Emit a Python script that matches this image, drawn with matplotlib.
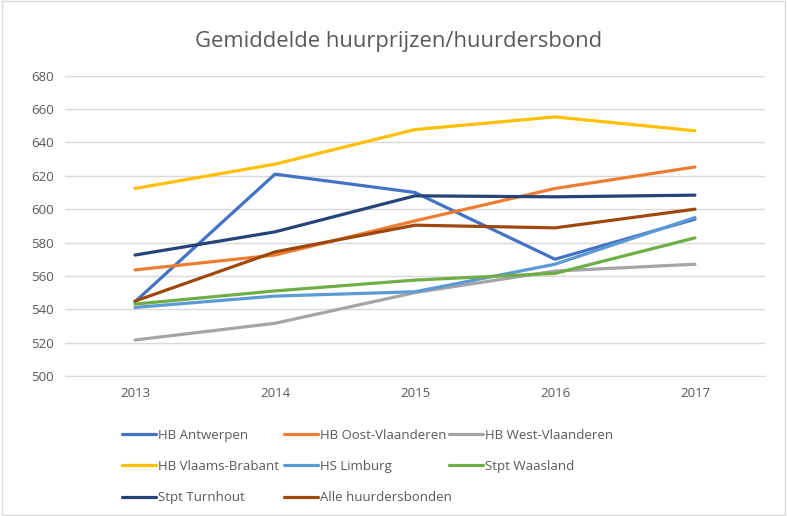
import matplotlib.pyplot as plt
from matplotlib.patches import Rectangle

plt.rcParams['font.family'] = ['Open Sans', 'DejaVu Sans']

years = ['2013', '2014', '2015', '2016', '2017']
antwerpen = [544.5, 621, 610, 570, 594]
oost_vl = [563.6, 572.5, 593, 612.4, 625.3]
west_vl = [521.6, 531.6, 550, 562.9, 567]
vl_brabant = [612.4, 627, 647.7, 655.3, 647]
limburg = [541.1, 547.9, 550.5, 567, 595]
waasland = [543.1, 551, 557.5, 561.5, 582.8]
turnhout = [572.5, 586.4, 608, 607.4, 608.4]
alle = [544.9, 574.4, 590.4, 588.8, 600]

series = [
    ('HB Antwerpen', antwerpen, '#4472C4'),
    ('HB Oost-Vlaanderen', oost_vl, '#ED7D31'),
    ('HB West-Vlaanderen', west_vl, '#A5A5A5'),
    ('HB Vlaams-Brabant', vl_brabant, '#FFC000'),
    ('HS Limburg', limburg, '#5B9BD5'),
    ('Stpt Waasland', waasland, '#70AD47'),
    ('Stpt Turnhout', turnhout, '#264478'),
    ('Alle huurdersbonden', alle, '#9E480E'),
]

fig = plt.figure(figsize=(7.87, 5.16), dpi=100)
ax = fig.add_axes([0.0826, 0.2713, 0.8894, 0.582])

x = range(len(years))
handles = []
for label, vals, color in series:
    h, = ax.plot(x, vals, color=color, lw=2.3, label=label,
                 solid_capstyle='round', solid_joinstyle='round')
    handles.append(h)

ax.set_xlim(-0.5, 4.5)
ax.set_ylim(500, 680)
ax.set_yticks(range(500, 681, 20))
ax.set_xticks(list(x))
ax.set_xticklabels(years)
ax.grid(axis='y', color='#D9D9D9', lw=1)
ax.set_axisbelow(True)
for s in ['top', 'right', 'left']:
    ax.spines[s].set_visible(False)
ax.spines['bottom'].set_color('#D9D9D9')
ax.tick_params(length=0, labelsize=9.5, colors='#595959', pad=8)

fig.text(0.507, 0.92, 'Gemiddelde huurprijzen/huurdersbond',
         ha='center', va='center', fontsize=15.8, color='#595959')

# legend laid out like Excel: equal-width columns, row-major order
cols = [[0, 3, 6], [1, 4, 7], [2, 5]]
col_x = [0.155, 0.361, 0.570]
for idx, cx in zip(cols, col_x):
    fig.legend([handles[i] for i in idx], [series[i][0] for i in idx],
               loc='upper left', bbox_to_anchor=(cx, 0.169),
               frameon=False, fontsize=9.5, labelcolor='#595959',
               handlelength=2.6, handletextpad=0.15, labelspacing=1.38,
               borderaxespad=0, borderpad=0)

fig.add_artist(Rectangle((0.002, 0.002), 0.996, 0.996, transform=fig.transFigure,
                         fill=False, edgecolor='#D9D9D9', lw=1))

fig.savefig('out.png', dpi=100)
